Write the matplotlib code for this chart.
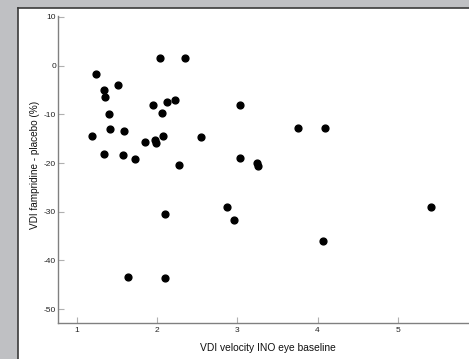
import matplotlib
matplotlib.use("Agg")
import matplotlib.pyplot as plt
from matplotlib.patches import Rectangle
from matplotlib.lines import Line2D

plt.rcParams["font.family"] = ["Liberation Sans", "DejaVu Sans"]
plt.rcParams["axes.unicode_minus"] = False

# VDI velocity of the INO eye at baseline vs. VDI change (fampridine - placebo)
baseline_vdi = [
    1.19, 1.24, 1.34, 1.35, 1.34, 1.40, 1.41, 1.51, 1.59, 1.57,
    1.72, 1.85, 1.97, 1.98, 1.95, 2.03, 2.35, 2.06, 2.12, 2.22,
    2.07, 2.27, 2.54, 3.03, 3.03, 3.75, 4.09, 3.24, 3.26, 2.10,
    1.63, 2.10, 2.87, 2.96, 4.07, 5.42,
]
vdi_change = [
    -14.5, -1.7, -4.9, -6.5, -18.1, -9.9, -13.0, -3.9, -13.4, -18.3,
    -19.2, -15.6, -15.3, -15.9, -8.1, 1.5, 1.5, -9.7, -7.4, -7.1,
    -14.5, -20.4, -14.6, -8.0, -19.0, -12.8, -12.8, -20.0, -20.5, -30.5,
    -43.4, -43.6, -29.0, -31.6, -36.0, -29.1,
]
x_ticks = [1, 2, 3, 4, 5]
y_ticks = [10, 0, -10, -20, -30, -40, -50]

W, H = 469, 359
fig = plt.figure(figsize=(W / 100, H / 100), dpi=100)
fig.patch.set_facecolor("#bfc0c3")

# white panel with a dark border on the left and top
fig.patches.append(Rectangle((18 / W, 0), 1, (H - 8) / H, transform=fig.transFigure,
                             facecolor="white", edgecolor="none", zorder=-2))
fig.lines.append(Line2D([17.5 / W, 17.5 / W], [0, (H - 7.5) / H], transform=fig.transFigure,
                        color="#3a3a3a", lw=1.2, zorder=-1))
fig.lines.append(Line2D([17.5 / W, 1], [(H - 7.5) / H, (H - 7.5) / H], transform=fig.transFigure,
                        color="#3a3a3a", lw=1.2, zorder=-1))

ax = fig.add_axes([58 / W, (H - 323.3) / H, (478 - 58) / W, (323.3 - 16) / H])
ax.set_zorder(2)
ax.set_facecolor("none")
ax.scatter(baseline_vdi, vdi_change, s=24, color="black", zorder=3, clip_on=False)

ax.set_xlim(0.763, 6.0)
ax.set_ylim(-52.9, 10.2)
ax.set_xticks(x_ticks)
ax.set_yticks(y_ticks)

for side in ("top", "right"):
    ax.spines[side].set_visible(False)
for side in ("left", "bottom"):
    ax.spines[side].set_color("#808080")
    ax.spines[side].set_linewidth(1.0)

ax.tick_params(axis="both", direction="in", length=4, width=0.8, color="#b0b0b0",
               labelsize=6, labelcolor="#222222")
ax.tick_params(axis="y", pad=1.5)
ax.tick_params(axis="x", pad=3)

ax.set_xlabel("VDI velocity INO eye baseline", fontsize=7.4, color="#111111", labelpad=6)
ax.set_ylabel("VDI fampridine - placebo (%)", fontsize=7.2, color="#111111", labelpad=3)
ax.yaxis.label.set_y(0.515)

fig.savefig("out.png", dpi=100, facecolor=fig.get_facecolor())
